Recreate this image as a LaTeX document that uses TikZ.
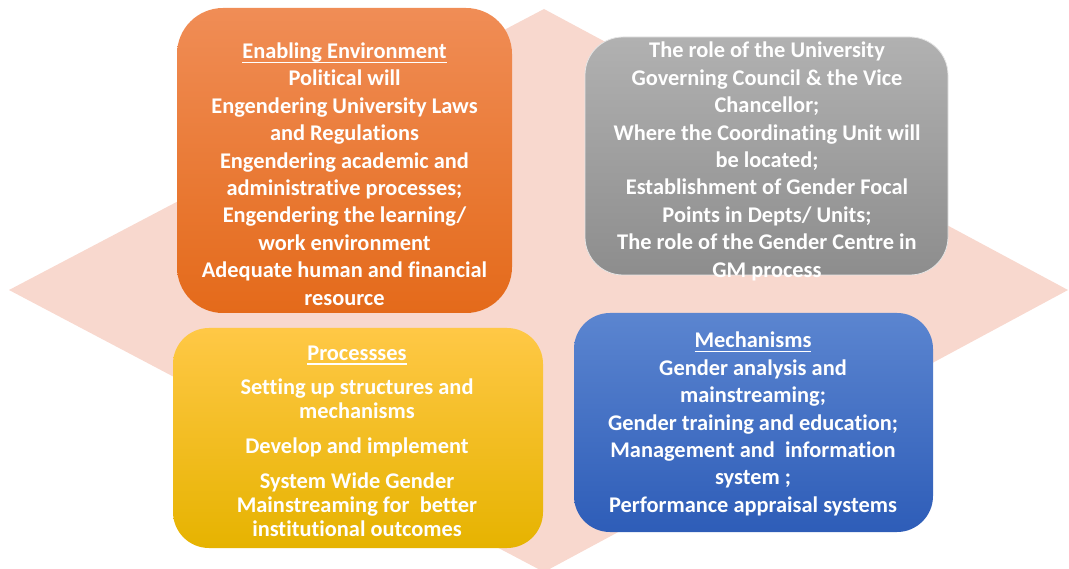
\documentclass[tikz,border=0pt]{standalone}
\usepackage{fontspec}
\setmainfont{Carlito}[Ligatures=NoCommon]
\newcommand\hdr[1]{\setbox0\hbox{#1}\rlap{\rule[-4.5pt]{\wd0}{1.3pt}}\box0}
\definecolor{diam}{HTML}{F8D8CE}
\definecolor{orTop}{HTML}{F08D56}
\definecolor{orBot}{HTML}{E46A1A}
\definecolor{grTop}{HTML}{B1B1B1}
\definecolor{grBot}{HTML}{8D8D8D}
\definecolor{yeTop}{HTML}{FFC846}
\definecolor{yeMid}{HTML}{FFC000}
\definecolor{yeBot}{HTML}{E6B300}
\definecolor{blTop}{HTML}{5B85D0}
\definecolor{blBot}{HTML}{2E5DB8}
\tikzset{
  card/.style={rectangle, inner sep=0pt, outer sep=0pt},
  txt/.style={text=white, align=center, inner sep=0pt,
    font=\fontsize{22.4}{27.4}\selectfont\bfseries}
}
\begin{document}
\begin{tikzpicture}[x=1pt,y=-1pt]
\useasboundingbox (0,0) rectangle (1069,569);
\fill[diam] (9,290) -- (544,9) -- (1068,290) -- (544,572) -- cycle;
% cards
\node[card, minimum width=335pt, minimum height=305pt, rounded corners=46pt,
  top color=orTop, bottom color=orBot] (env) at (344.5,160.5) {};
\node[card, minimum width=363pt, minimum height=238pt, rounded corners=38pt,
  top color=grTop, bottom color=grBot, draw=white!80!gray, line width=0.8pt] (role) at (766.5,156) {};
\node[card, minimum width=370pt, minimum height=220pt, rounded corners=36pt,
  top color=yeTop, middle color=yeMid, bottom color=yeBot] (proc) at (358,438) {};
\node[card, minimum width=359pt, minimum height=219pt, rounded corners=36pt,
  top color=blTop, bottom color=blBot] (mech) at (753.5,422.5) {};
% texts
\node[txt] (envt) at (344.5,174) {\hdr{Enabling Environment}\\ Political will\\
  Engendering University Laws\\ and Regulations\\ Engendering academic and\\
  administrative processes;\\ Engendering the learning/\\ work environment\\
  Adequate human and financial\\ resource};
\node[txt] (rolet) at (767,161.5) {The role of the University\\
  Governing Council \& the Vice\\ Chancellor;\\ Where the Coordinating Unit will\\
  be located;\\ Establishment of Gender Focal\\ Points in Depts/ Units;\\
  The role of the Gender Centre in\\ GM process};
\node[txt, font=\fontsize{22.4}{24}\selectfont\bfseries] (proct) at (357,441) {\hdr{Processses}\\[10pt]
  Setting up structures and\\ mechanisms\\[11pt] Develop and implement\\[11pt]
  System Wide Gender\\ Mainstreaming for\ \ better\\ institutional outcomes};
\node[txt] (mecht) at (753,424) {\hdr{Mechanisms}\\ Gender analysis and\\
  mainstreaming;\\ Gender training and education;\\ Management and\ \ information\\
  system ;\\ Performance appraisal systems};
\end{tikzpicture}
\end{document}
